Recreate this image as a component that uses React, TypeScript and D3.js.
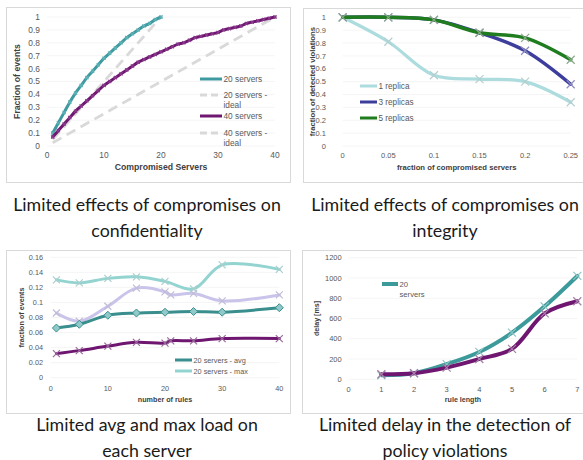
import React from "react";
import * as d3 from "d3";

// ---- panel 1: confidentiality ----
const conf20X = [1, 2, 3, 4, 5, 6, 7, 8, 9, 10, 11, 12, 13, 14, 15, 16, 17, 18, 19, 20];
const conf20Y = [0.1, 0.18, 0.26, 0.34, 0.41, 0.47, 0.53, 0.58, 0.63, 0.68, 0.72, 0.76, 0.8, 0.84, 0.87, 0.9, 0.93, 0.95, 0.98, 1.0];
const conf40X = [1, 2, 3, 4, 5, 6, 7, 8, 9, 10, 11, 12, 13, 14, 15, 16, 17, 18, 19, 20, 21, 22, 23, 24, 25, 26, 27, 28, 29, 30, 31, 32, 33, 34, 35, 36, 37, 38, 39, 40];
const conf40Y = [0.07, 0.12, 0.17, 0.22, 0.27, 0.31, 0.35, 0.39, 0.43, 0.47, 0.5, 0.53, 0.56, 0.59, 0.62, 0.65, 0.67, 0.69, 0.71, 0.73, 0.75, 0.77, 0.79, 0.8, 0.82, 0.84, 0.85, 0.86, 0.87, 0.88, 0.9, 0.91, 0.92, 0.93, 0.95, 0.96, 0.97, 0.98, 0.99, 1.0];
const ideal20X = [1, 20];
const ideal20Y = [0.05, 1];
const ideal40X = [1, 40];
const ideal40Y = [0.025, 1];

// ---- panel 2: integrity ----
const integX = [0, 0.05, 0.1, 0.15, 0.2, 0.25];
const rep1Y = [1.0, 0.81, 0.55, 0.52, 0.5, 0.34];
const rep3Y = [1.0, 1.0, 0.98, 0.88, 0.74, 0.48];
const rep5Y = [1.0, 1.0, 0.98, 0.88, 0.84, 0.67];

// ---- panel 3: load ----
const loadAvgX = [1, 5, 10, 15, 20, 25, 30, 40];
const loadAvg20 = [0.066, 0.071, 0.083, 0.086, 0.087, 0.088, 0.087, 0.093];
const loadMax20 = [0.13, 0.126, 0.132, 0.134, 0.128, 0.118, 0.15, 0.144];
const load40X = [1, 5, 10, 15, 20, 21, 25, 30, 40];
const loadMax40 = [0.086, 0.075, 0.095, 0.119, 0.114, 0.11, 0.112, 0.102, 0.11];
const loadAvg40 = [0.032, 0.036, 0.042, 0.047, 0.046, 0.049, 0.049, 0.052, 0.052];

// ---- panel 4: delay ----
const ruleLen = [1, 2, 3, 4, 5, 6, 7];
const delay20 = [40, 60, 150, 270, 460, 720, 1020];
const delay40 = [50, 60, 115, 200, 300, 650, 770];

const captions = [
  ["Limited effects of compromises on", "confidentiality"],
  ["Limited effects of compromises on", "integrity"],
  ["Limited avg and max load on", "each server"],
  ["Limited delay in the detection of", "policy violations"],
];

const FONT = "Liberation Sans, Arial, sans-serif";
const TICK = "#595959";

type Series = {
  x: number[];
  y: number[];
  color: string;
  width: number;
  dash?: string;
  marker?: "x" | "diamond";
  markerSize?: number;
  markerColor?: string;
  curve?: d3.CurveFactory;
};

type LegendItem = { label: string[]; color: string; dash?: string; width: number; x: number; y: number };

type PanelProps = {
  frame: [number, number, number, number];
  xDomain: [number, number];
  xRange: [number, number];
  yDomain: [number, number];
  yRange: [number, number];
  xTicks: number[];
  yTicks: number[];
  yFmt?: (v: number) => string;
  yLabelX: number;
  xLabelY: number;
  xTitle: string;
  yTitle: string;
  yTitleX: number;
  xTitleY: number;
  tickSize: number;
  titleSize: number;
  legendSize: number;
  legendLen: number;
  legendGap: number;
  series: Series[];
  legend: LegendItem[];
};

const xMark = (s: number) => `M${-s},${-s}L${s},${s}M${-s},${s}L${s},${-s}`;
const num = (v: number) => d3.format("~g")(+v.toFixed(3));

function Panel(p: PanelProps) {
  const x = d3.scaleLinear().domain(p.xDomain).range(p.xRange);
  const y = d3.scaleLinear().domain(p.yDomain).range(p.yRange);
  const [fx, fy, fw, fh] = p.frame;
  const yFmt = p.yFmt ?? num;
  return (
    <g>
      <rect x={fx + 0.5} y={fy + 0.5} width={fw} height={fh} fill="#fff" stroke="#d9d9d9" strokeWidth={1} />
      {p.yTicks.map((t) => (
        <line key={"g" + t} x1={p.xRange[0]} x2={p.xRange[1]} y1={y(t)} y2={y(t)} stroke="#f3f3f3" strokeWidth={0.8} />
      ))}
      {p.yTicks.map((t) => (
        <text key={"y" + t} x={p.yLabelX} y={y(t)} dy="0.35em" textAnchor="end" fontSize={p.tickSize} fill={TICK} fontFamily={FONT}>
          {yFmt(t)}
        </text>
      ))}
      {p.xTicks.map((t) => (
        <text key={"x" + t} x={x(t)} y={p.xLabelY} dy="0.35em" textAnchor="middle" fontSize={p.tickSize} fill={TICK} fontFamily={FONT}>
          {num(t)}
        </text>
      ))}
      <text x={(p.xRange[0] + p.xRange[1]) / 2} y={p.xTitleY} dy="0.35em" textAnchor="middle" fontSize={p.titleSize} fontWeight="bold" fill="#404040" fontFamily={FONT}>
        {p.xTitle}
      </text>
      <text
        transform={`translate(${p.yTitleX},${(p.yRange[0] + p.yRange[1]) / 2}) rotate(-90)`}
        dy="0.35em"
        textAnchor="middle"
        fontSize={p.titleSize}
        fontWeight="bold"
        fill="#404040"
        fontFamily={FONT}
      >
        {p.yTitle}
      </text>
      {p.series.map((s, i) => {
        const pts = s.x.map((v, j) => [x(v), y(s.y[j])] as [number, number]);
        const line = d3.line().curve(s.curve ?? d3.curveCatmullRom.alpha(0.5))(pts) ?? "";
        return (
          <g key={i}>
            <path d={line} fill="none" stroke={s.color} strokeWidth={s.width} strokeDasharray={s.dash} strokeLinecap={s.dash ? "butt" : "round"} />
            {s.marker === "x" &&
              pts.map(([px, py], j) => (
                <path key={j} d={xMark(s.markerSize ?? 3)} transform={`translate(${px},${py})`} stroke={s.markerColor ?? s.color} strokeWidth={1.2} fill="none" />
              ))}
            {s.marker === "diamond" &&
              pts.map(([px, py], j) => {
                const m = s.markerSize ?? 3.5;
                return (
                  <path key={j} d={`M0,${-m}L${m},0L0,${m}L${-m},0Z`} transform={`translate(${px},${py})`} fill={s.markerColor} stroke={s.color} strokeWidth={1} />
                );
              })}
          </g>
        );
      })}
      {p.legend.map((l, i) => (
        <g key={"l" + i}>
          <line x1={l.x} x2={l.x + p.legendLen} y1={l.y} y2={l.y} stroke={l.color} strokeWidth={l.width} strokeDasharray={l.dash} />
          {l.label.map((t, k) => (
            <text key={k} x={l.x + p.legendLen + 1.5} y={l.y + k * p.legendGap} dy="0.35em" fontSize={p.legendSize} fill={TICK} fontFamily={FONT}>
              {t}
            </text>
          ))}
        </g>
      ))}
    </g>
  );
}

export default function App() {
  const teal = "#3e9aa0";
  const purple = "#6f1671";
  const ideal = "#d9d9d9";
  const panels: PanelProps[] = [
    {
      frame: [6, 7, 284, 175],
      xDomain: [0, 40],
      xRange: [47, 275],
      yDomain: [0, 1],
      yRange: [146, 17],
      xTicks: [0, 10, 20, 30, 40],
      yTicks: [0, 0.1, 0.2, 0.3, 0.4, 0.5, 0.6, 0.7, 0.8, 0.9, 1],
      yLabelX: 40,
      xLabelY: 155,
      xTitle: "Compromised Servers",
      yTitle: "Fraction of events",
      yTitleX: 17,
      xTitleY: 167,
      tickSize: 8.4,
      titleSize: 8.7,
      legendSize: 8.3,
      legendLen: 22,
      legendGap: 10.5,
      series: [
        { x: ideal20X, y: ideal20Y, color: ideal, width: 2.8, dash: "10,6", curve: d3.curveLinear },
        { x: ideal40X, y: ideal40Y, color: ideal, width: 2.8, dash: "10,6", curve: d3.curveLinear },
        { x: conf20X, y: conf20Y, color: teal, width: 3, marker: "x", markerSize: 1.6, markerColor: "#5fb3b6" },
        { x: conf40X, y: conf40Y, color: purple, width: 3, marker: "x", markerSize: 1.6, markerColor: "#8a3a8c" },
      ],
      legend: [
        { label: ["20 servers"], color: teal, width: 3, x: 200, y: 79 },
        { label: ["20 servers -", "ideal"], color: ideal, width: 2.8, dash: "7,4", x: 200, y: 95 },
        { label: ["40 servers"], color: purple, width: 3, x: 200, y: 116 },
        { label: ["40 servers -", "ideal"], color: ideal, width: 2.8, dash: "7,4", x: 200, y: 133 },
      ],
    },
    {
      frame: [303, 8, 290, 174],
      xDomain: [0, 0.25],
      xRange: [342.7, 570.7],
      yDomain: [0, 1],
      yRange: [146, 17.3],
      xTicks: [0, 0.05, 0.1, 0.15, 0.2, 0.25],
      yTicks: [0, 0.1, 0.2, 0.3, 0.4, 0.5, 0.6, 0.7, 0.8, 0.9, 1],
      yLabelX: 326,
      xLabelY: 155,
      xTitle: "fraction of compromised servers",
      yTitle: "fraction of detected violations",
      yTitleX: 312.5,
      xTitleY: 167,
      tickSize: 7.5,
      titleSize: 7.7,
      legendSize: 8.2,
      legendLen: 17,
      legendGap: 10,
      series: [
        { x: integX, y: rep1Y, color: "#acdcde", width: 3.2, marker: "x", markerSize: 4, markerColor: "#b5cfcf" },
        { x: integX, y: rep3Y, color: "#3d3d9c", width: 3.5, marker: "x", markerSize: 4, markerColor: "#8c8cc0" },
        { x: integX, y: rep5Y, color: "#1f7d1f", width: 3.5, marker: "x", markerSize: 4, markerColor: "#8aa78a" },
      ],
      legend: [
        { label: ["1 replica"], color: "#acdcde", width: 3, x: 360, y: 86 },
        { label: ["3 replicas"], color: "#3d3d9c", width: 3, x: 360, y: 102 },
        { label: ["5 replicas"], color: "#1f7d1f", width: 3, x: 360, y: 118 },
      ],
    },
    {
      frame: [6, 250, 284, 163],
      xDomain: [0, 40],
      xRange: [50.7, 279.3],
      yDomain: [0, 0.16],
      yRange: [377.7, 257.3],
      xTicks: [0, 10, 20, 30, 40],
      yTicks: [0, 0.02, 0.04, 0.06, 0.08, 0.1, 0.12, 0.14, 0.16],
      yLabelX: 43,
      xLabelY: 388,
      xTitle: "number of rules",
      yTitle: "fraction of events",
      yTitleX: 21,
      xTitleY: 399.5,
      tickSize: 7.3,
      titleSize: 7.2,
      legendSize: 7.3,
      legendLen: 17,
      legendGap: 10,
      series: [
        { x: load40X, y: loadMax40, color: "#cac4ea", width: 3, marker: "x", markerSize: 3.5, markerColor: "#c2bcd8" },
        { x: loadAvgX, y: loadMax20, color: "#93d4d0", width: 3, marker: "x", markerSize: 3.5, markerColor: "#a9cfcd" },
        { x: loadAvgX, y: loadAvg20, color: "#3a8e8e", width: 3, marker: "diamond", markerSize: 4, markerColor: "#8fc9c9" },
        { x: load40X, y: loadAvg40, color: purple, width: 3, marker: "x", markerSize: 3.5, markerColor: "#9a6a9c" },
      ],
      legend: [
        { label: ["20 servers - avg"], color: "#3a8e8e", width: 3, x: 175, y: 360 },
        { label: ["20 servers - max"], color: "#93d4d0", width: 3, x: 175, y: 371 },
      ],
    },
    {
      frame: [302, 250, 290, 163],
      xDomain: [0, 7],
      xRange: [348.7, 577.3],
      yDomain: [0, 1200],
      yRange: [379.3, 257.7],
      xTicks: [0, 1, 2, 3, 4, 5, 6, 7],
      yTicks: [0, 200, 400, 600, 800, 1000, 1200],
      yFmt: (v) => String(v),
      yLabelX: 341.7,
      xLabelY: 389,
      xTitle: "rule length",
      yTitle: "delay [ms]",
      yTitleX: 316.7,
      xTitleY: 399.5,
      tickSize: 7.5,
      titleSize: 7.1,
      legendSize: 7.7,
      legendLen: 16,
      legendGap: 10.5,
      series: [
        { x: ruleLen, y: delay20, color: "#3d9a9a", width: 4, marker: "x", markerSize: 4, markerColor: "#8fc4c4" },
        { x: ruleLen, y: delay40, color: purple, width: 4, marker: "x", markerSize: 4, markerColor: "#a67fa8" },
      ],
      legend: [{ label: ["20", "servers"], color: "#3d9a9a", width: 4, x: 382, y: 284 }],
    },
  ];
  const capPos = [
    [147, 211],
    [445, 211],
    [147, 431],
    [445, 431],
  ];
  return (
    <svg width={583} height={460} style={{ position: "absolute", left: 0, top: 0, background: "#fff" }}>
      {panels.map((p, i) => (
        <Panel key={i} {...p} />
      ))}
      {captions.map((c, i) =>
        c.map((t, k) => (
          <text key={i + "-" + k} x={capPos[i][0]} y={capPos[i][1] + k * 25.5} textAnchor="middle" fontSize={17.8} fill="#1a1a1a" fontFamily="Lato, 'Open Sans', sans-serif">
            {t}
          </text>
        ))
      )}
    </svg>
  );
}
